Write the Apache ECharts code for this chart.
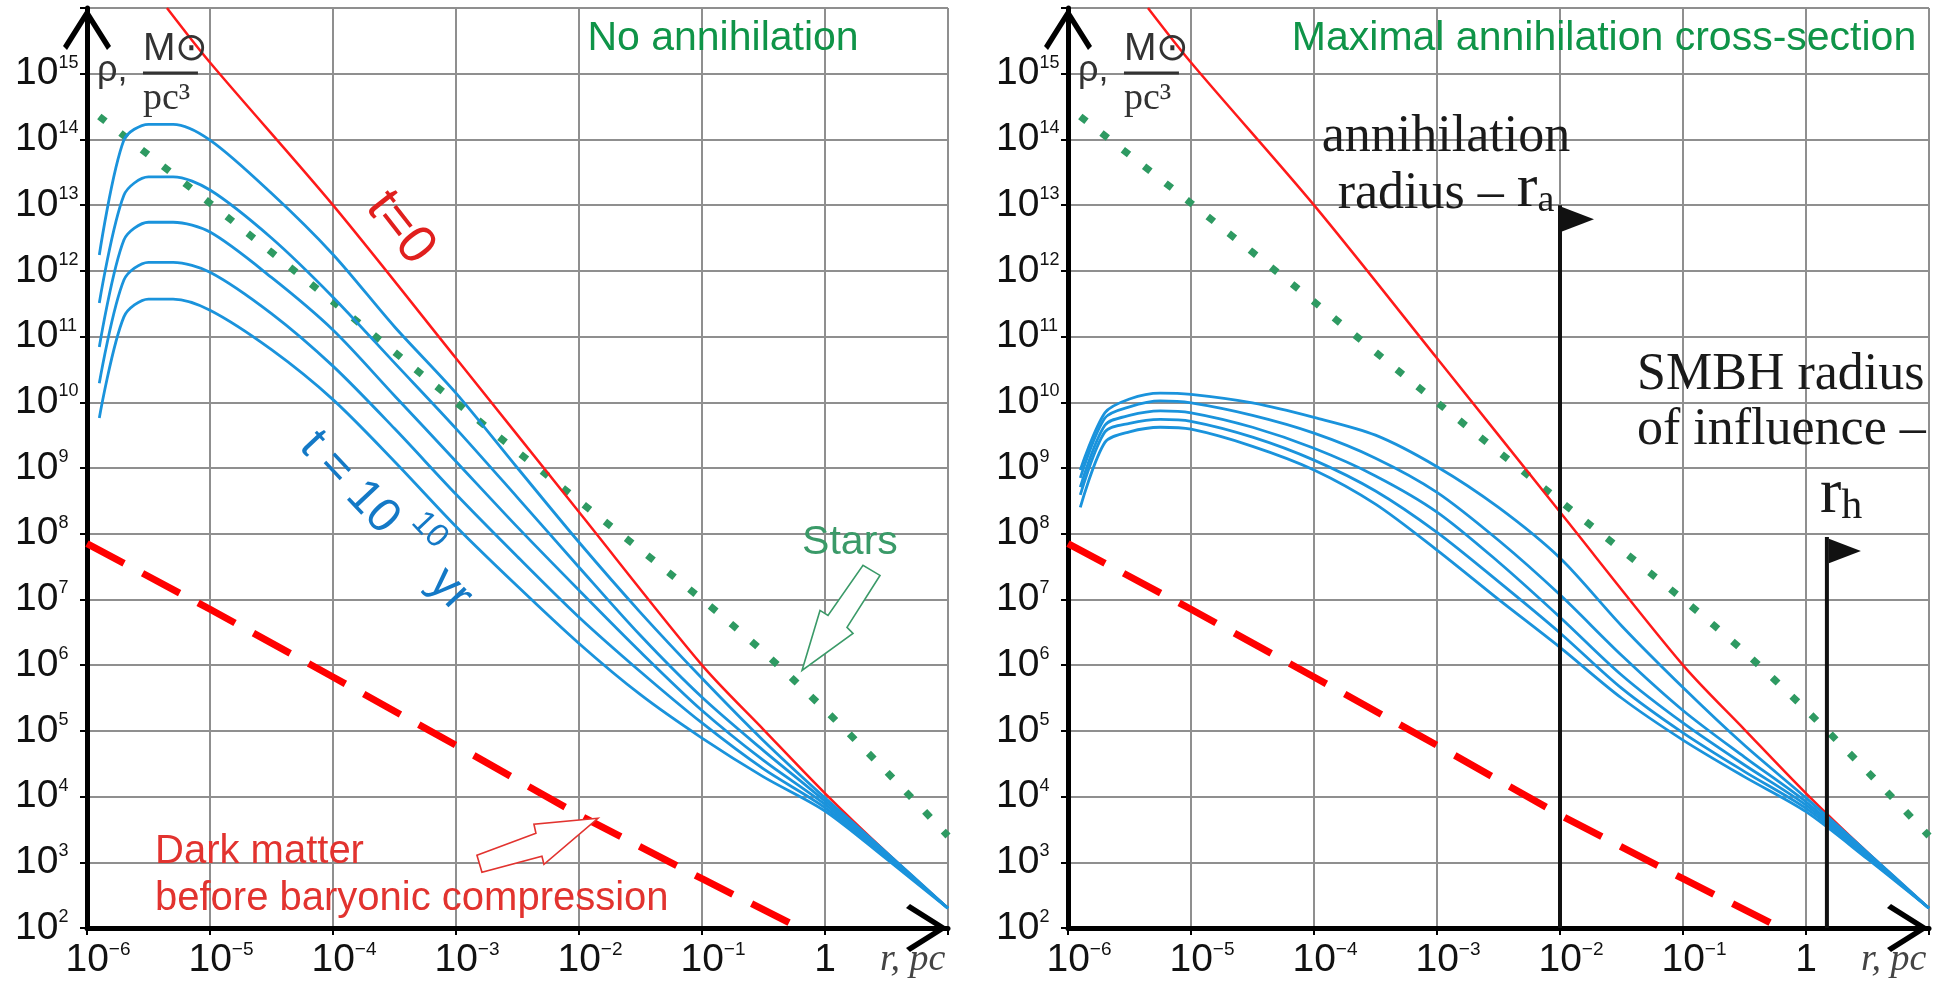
<!DOCTYPE html>
<html>
<head>
<meta charset="utf-8">
<script src="https://cdn.jsdelivr.net/npm/echarts@6/dist/echarts.min.js"></script>
<style>
html, body { margin: 0; padding: 0; background: #fff; }
#main { width: 1954px; height: 987px; }
</style>
</head>
<body>
<div id="main"></div>
<script>
// values as log10 exponents: log10(r / pc), log10(rho / (Msun/pc^3))
var curveLgR = [-5.9, -5.7, -5.5, -5.3, -5, -4.5, -4, -3.5, -3, -2.5, -2, -1.5, -1, -0.5, 0, 0.5, 1];
var curveLgRRight = [-5.9, -5.7, -5.5, -5.25, -5, -4.5, -4, -3.5, -3, -2.5, -2, -1.5, -1, -0.5, 0, 0.5, 1];

// left panel: no annihilation
var blueL1 = [12.24, 13.99, 14.23, 14.23, 13.99, 13.18, 12.25, 11.15, 10.14, 9.0, 7.87, 6.8, 5.8, 4.85, 3.98, 3.15, 2.3];
var blueL2 = [11.51, 13.15, 13.43, 13.43, 13.23, 12.5, 11.6, 10.6, 9.6, 8.55, 7.49, 6.45, 5.51, 4.7, 3.93, 3.12, 2.3];
var blueL3 = [10.84, 12.47, 12.74, 12.74, 12.59, 11.9, 11.1, 10.1, 9.1, 8.1, 7.14, 6.2, 5.31, 4.55, 3.88, 3.1, 2.3];
var blueL4 = [10.29, 11.86, 12.13, 12.13, 11.98, 11.35, 10.55, 9.6, 8.6, 7.65, 6.73, 5.9, 5.12, 4.42, 3.83, 3.08, 2.3];
var blueL5 = [9.76, 11.3, 11.57, 11.57, 11.4, 10.8, 10.04, 9.1, 8.11, 7.2, 6.33, 5.55, 4.89, 4.3, 3.78, 3.05, 2.3];

// right panel: maximal annihilation cross-section
var blueR1 = [8.97, 9.84, 10.05, 10.14, 10.12, 9.99, 9.77, 9.5, 9.02, 8.4, 7.63, 6.6, 5.66, 4.78, 3.98, 3.15, 2.3];
var blueR2 = [8.85, 9.76, 9.93, 10.02, 9.99, 9.8, 9.53, 9.15, 8.63, 7.9, 7.07, 6.15, 5.31, 4.6, 3.92, 3.12, 2.3];
var blueR3 = [8.71, 9.65, 9.8, 9.87, 9.84, 9.62, 9.3, 8.88, 8.33, 7.57, 6.73, 5.85, 5.12, 4.48, 3.87, 3.1, 2.3];
var blueR4 = [8.59, 9.55, 9.68, 9.74, 9.71, 9.47, 9.12, 8.65, 8.02, 7.27, 6.49, 5.65, 4.97, 4.38, 3.82, 3.08, 2.3];
var blueR5 = [8.4, 9.39, 9.55, 9.62, 9.59, 9.33, 8.97, 8.45, 7.75, 7.0, 6.27, 5.5, 4.86, 4.3, 3.77, 3.05, 2.3];

// t = 0 profile (same in both panels)
var t0LgR = [-5.35, -5, -4, -3, -2, -1, -0.5, 0, 0.5, 1];
var t0LgRho = [16, 15.17, 13, 10.67, 8.33, 6.0, 5.02, 4.05, 3.15, 2.3];

// stars
var starsLgR = [-5.9, -5, -4, -3, -2, -1, -0.5, 0, 0.5, 1];
var starsLgRho = [14.35, 13.03, 11.53, 10.0, 8.5, 7.0, 6.2, 5.32, 4.38, 3.4];

// dark matter before baryonic compression
var dmLgR = [-6, -5, -4, -3, -2, -1, -0.28];
var dmLgRho = [7.85, 6.85, 5.82, 4.78, 3.72, 2.75, 2.07];

// r_a and r_h flags (right panel)
var flagLgR = [-2, 0.17];
var flagLgTop = [13.0, 7.95];

var sans = '"Liberation Sans", Arial, sans-serif';
var serif = '"Liberation Serif", "Times New Roman", serif';
var blue = '#1a93dc';
var gridGray = '#8f8f8f';
var arrowPath = 'path://M24,0L48,38L44,42L24,10L4,42L0,38Z';

function pairs(xs, ys) {
    return xs.map(function (x, i) { return [Math.pow(10, x), Math.pow(10, ys[i])]; });
}

function xLabel(v) {
    var e = Math.round(Math.log10(v));
    if (e === 1) return '{rpc|r, pc}';
    if (e === 0) return '{b|1}';
    return '{sp| }{b|10}{sup|\u2212' + (-e) + '}';
}

function yLabel(v) {
    var e = Math.round(Math.log10(v));
    if (e >= 16) return '';
    return '{b|10}{sup|' + e + '}';
}

function xAxisFor(g) {
    return {
        type: 'log', logBase: 10, gridIndex: g, min: 1e-6, max: 10, interval: 1,
        axisLine: { show: true, lineStyle: { color: '#000', width: 5 },
            symbol: ['none', arrowPath], symbolSize: [48, 42], symbolOffset: [0, -21] },
        axisTick: { show: true, length: 7, lineStyle: { color: '#000', width: 2 } },
        minorTick: { show: false },
        splitLine: { show: true, lineStyle: { color: gridGray, width: 2 } },
        axisLabel: {
            interval: 0, showMinLabel: true, showMaxLabel: true, margin: 12,
            formatter: xLabel,
            rich: {
                b: { fontSize: 39, fontFamily: sans, color: '#111', lineHeight: 40 },
                sup: { fontSize: 19, fontFamily: sans, color: '#111', lineHeight: 20, verticalAlign: 'top' },
                sp: { width: 22, fontSize: 18 },
                rpc: { fontSize: 38, fontFamily: serif, fontStyle: 'italic', color: '#444', lineHeight: 40, width: 136, align: 'left' }
            }
        }
    };
}

function yAxisFor(g) {
    return {
        type: 'log', logBase: 10, gridIndex: g, min: 100, max: 1e16, interval: 1,
        axisLine: { show: true, lineStyle: { color: '#000', width: 5 },
            symbol: ['none', arrowPath], symbolSize: [48, 42], symbolOffset: [0, -21] },
        axisTick: { show: true, length: 7, lineStyle: { color: '#000', width: 2 } },
        minorTick: { show: false },
        splitLine: { show: true, lineStyle: { color: gridGray, width: 2 } },
        axisLabel: {
            interval: 0, showMinLabel: true, showMaxLabel: true, margin: 72, align: 'left',
            formatter: yLabel,
            rich: {
                b: { fontSize: 39, fontFamily: sans, color: '#111', lineHeight: 40 },
                sup: { fontSize: 18, fontFamily: sans, color: '#111', lineHeight: 18, verticalAlign: 'top' }
            }
        }
    };
}

function line(g, data, style, z, smooth) {
    return { type: 'line', xAxisIndex: g, yAxisIndex: g, data: data, symbol: 'none',
        lineStyle: style, z: z || 2, silent: true, clip: true, smooth: smooth || false };
}

function panelSeries(g, lgR, blues) {
    var s = [];
    s.push(line(g, pairs(dmLgR, dmLgRho), { color: '#ff0000', width: 7, type: [42, 21] }, 2));
    s.push(line(g, pairs(starsLgR, starsLgRho), { color: '#2e9a62', width: 7, type: [8, 19] }, 2, 0.3));
    s.push(line(g, pairs(t0LgR, t0LgRho), { color: '#ff1a1a', width: 2.5 }, 3, 0.3));
    blues.forEach(function (b) {
        s.push(line(g, pairs(lgR, b), { color: blue, width: 2.8 }, 4, 0.3));
    });
    return s;
}

var series = panelSeries(0, curveLgR, [blueL1, blueL2, blueL3, blueL4, blueL5])
    .concat(panelSeries(1, curveLgRRight, [blueR1, blueR2, blueR3, blueR4, blueR5]));

flagLgR.forEach(function (lr, i) {
    var x = Math.pow(10, lr);
    series.push({
        type: 'line', xAxisIndex: 1, yAxisIndex: 1, silent: true, z: 6,
        symbol: 'none', lineStyle: { color: '#111', width: 4 },
        data: [[x, 100], {
            value: [x, Math.pow(10, flagLgTop[i])],
            symbol: 'path://M0,0L32,14L0,28Z', symbolSize: [32, 28], symbolOffset: [18, 14],
            symbolKeepAspect: true, itemStyle: { color: '#111' }
        }]
    });
});

var chart = echarts.init(document.getElementById('main'));
chart.setOption({
    animation: false,
    backgroundColor: '#fff',
    grid: [
        { left: 87, right: 1006, top: 8, bottom: 59, containLabel: false, outerBoundsMode: 'none' },
        { left: 1068, right: 25, top: 8, bottom: 59, containLabel: false, outerBoundsMode: 'none' }
    ],
    xAxis: [xAxisFor(0), xAxisFor(1)],
    yAxis: [yAxisFor(0), yAxisFor(1)],
    series: series
});

// annotations, anchored to data coordinates
function at(g, lr, lrho) {
    return chart.convertToPixel({ gridIndex: g }, [Math.pow(10, lr), Math.pow(10, lrho)]);
}

function text(g, lr, lrho, style, rotDeg) {
    var p = at(g, lr, lrho);
    return {
        type: 'text', x: p[0], y: p[1], z: 100, silent: true,
        rotation: (rotDeg || 0) * Math.PI / 180,
        style: Object.assign({ align: 'center', verticalAlign: 'middle' }, style)
    };
}

function arrow(g, lr, lrho, offsets, color) {
    var p = at(g, lr, lrho);
    return {
        type: 'polygon', z: 100, silent: true,
        shape: { points: offsets.map(function (o) { return [p[0] + o[0], p[1] + o[1]]; }) },
        style: { fill: '#fff', stroke: color, lineWidth: 1.6 }
    };
}

var gfx = [];

[0, 1].forEach(function (g) {
    gfx.push(text(g, -5.919, 15.04, { text: '\u03c1,', font: '36px ' + sans, fill: '#333', align: 'left' }));
    gfx.push(text(g, -5.545, 15.376, { text: 'M\u2299', font: '39px ' + sans, fill: '#333', align: 'left' }));
    var a = at(g, -5.545, 15.01), b = at(g, -5.098, 15.01);
    gfx.push({ type: 'rect', z: 100, silent: true, shape: { x: a[0], y: a[1] - 1.5, width: b[0] - a[0], height: 3 }, style: { fill: '#333' } });
    gfx.push(text(g, -5.545, 14.615, { text: 'pc\u00b3', font: '38px ' + serif, fill: '#333', align: 'left' }));
});

// left panel
gfx.push(text(0, -0.829, 15.54, { text: 'No annihilation', font: '41px ' + sans, fill: '#0f9448' }));
gfx.push(text(0, -3.455, 12.65, { text: 't=0', font: '54px ' + sans, fill: '#e0201e' }, -52));

// t = 10^10 yr, written along the curves
var tp = at(0, -4.207, 9.45);
var tBlue = '#1479c6';
gfx.push({
    type: 'group', x: tp[0], y: tp[1], rotation: -46.7 * Math.PI / 180, z: 100, silent: true,
    children: [
        { type: 'text', x: 0, y: 0, style: { text: 't = 10', font: '48px ' + sans, fill: tBlue, align: 'left', verticalAlign: 'middle' } },
        { type: 'text', x: 132, y: -26, style: { text: '10', font: '33px ' + sans, fill: tBlue, align: 'left', verticalAlign: 'middle' } },
        { type: 'text', x: 188, y: 0, style: { text: 'yr', font: '48px ' + sans, fill: tBlue, align: 'left', verticalAlign: 'middle' } }
    ]
});

gfx.push(text(0, 0.203, 7.857, { text: 'Stars', font: '41px ' + sans, fill: '#3a9a68' }));
gfx.push(arrow(0, -0.187, 5.92, [[0, 0], [18, -60], [26, -55], [61, -105], [78, -95], [45, -43], [51, -37]], '#3a9a68'));
gfx.push(text(0, -5.447, 2.796, {
    text: 'Dark matter\nbefore baryonic compression', font: '40px ' + sans, fill: '#e2332f',
    align: 'left', lineHeight: 47
}));
gfx.push(arrow(0, -1.846, 3.67, [[0, 0], [-64, 6], [-62, 15], [-121, 37], [-116, 54], [-56, 38], [-54, 46]], '#e2332f'));

// right panel
gfx.push(text(1, -1.642, 15.54, { text: 'Maximal annihilation cross-section', font: '41px ' + sans, fill: '#0f9448' }));
gfx.push(text(1, -2.927, 14.03, { text: 'annihilation', font: '52px ' + serif, fill: '#1a1a1a' }));
gfx.push(text(1, -2.927, 13.28, {
    text: '{t|radius \u2013 }{r|r}{s|a}',
    rich: {
        t: { fontSize: 52, fontFamily: serif, fill: '#1a1a1a', lineHeight: 60, verticalAlign: 'bottom' },
        r: { fontSize: 62, fontFamily: serif, fill: '#1a1a1a', lineHeight: 67, verticalAlign: 'bottom' },
        s: { fontSize: 38, fontFamily: serif, fill: '#1a1a1a', lineHeight: 24, verticalAlign: 'bottom' }
    }
}));
gfx.push(text(1, -1.374, 9.99, {
    text: 'SMBH radius\nof influence \u2013', font: '52px ' + serif, fill: '#1a1a1a',
    align: 'left', lineHeight: 55
}));
gfx.push(text(1, 0.114, 8.58, {
    text: '{r|r}{s|h}', align: 'left',
    rich: {
        r: { fontSize: 64, fontFamily: serif, fill: '#1a1a1a', lineHeight: 64, verticalAlign: 'bottom' },
        s: { fontSize: 42, fontFamily: serif, fill: '#1a1a1a', lineHeight: 24, verticalAlign: 'bottom' }
    }
}));

chart.setOption({ graphic: gfx });
</script>
</body>
</html>
